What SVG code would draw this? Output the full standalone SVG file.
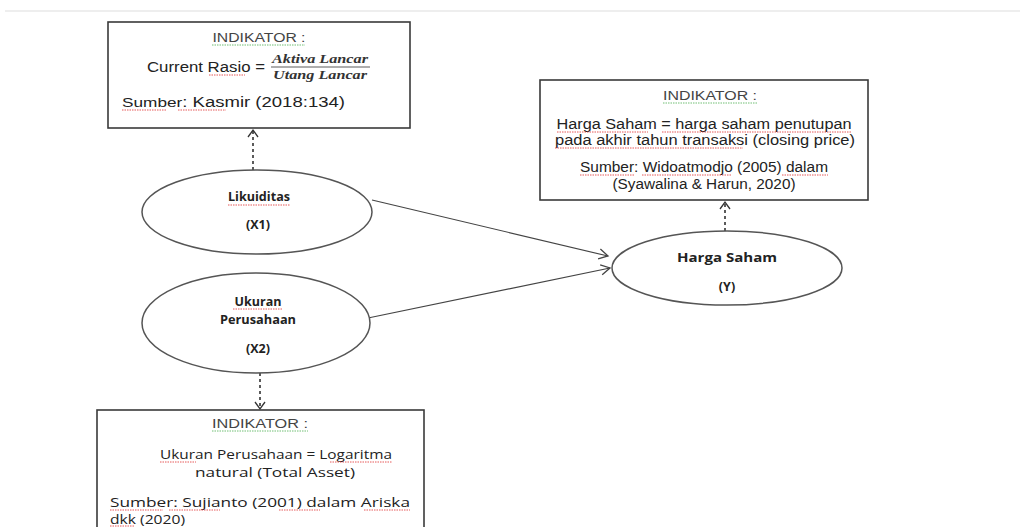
<svg xmlns="http://www.w3.org/2000/svg" width="1020" height="527" viewBox="0 0 1020 527">
<defs>
<style>
.box{fill:#fff;stroke:#3a3a3a;stroke-width:1.6}
.ell{fill:#fff;stroke:#555;stroke-width:1.5}
.t{font-family:"Liberation Sans",Arial,sans-serif;fill:#222;font-size:14px}
.c{font-family:"Open Sans","Noto Sans",sans-serif;fill:#222;font-size:12px}
.b{font-family:"Open Sans","Noto Sans",sans-serif;fill:#222;font-size:12.5px;font-weight:bold}
.h{font-family:"Liberation Sans",Arial,sans-serif;fill:#444;font-size:12px}
.m{font-family:"Liberation Serif","DejaVu Serif",serif;font-style:italic;font-weight:bold;fill:#333;font-size:12px}
.sol{stroke:#444;stroke-width:1.2;fill:none}
.dash{stroke:#333;stroke-width:1.6;fill:none;stroke-dasharray:3,3}
.sq{stroke:#e03030;stroke-width:0.8;fill:none;stroke-dasharray:1.5,1}
.sg{stroke:#4caf50;stroke-width:0.8;fill:none;stroke-dasharray:1.5,1}
</style>
<marker id="ah" markerWidth="12" markerHeight="12" refX="10" refY="6" orient="auto" markerUnits="userSpaceOnUse">
<path d="M1,1 L10,6 L1,11" fill="none" stroke="#444" stroke-width="1.3"/>
</marker>
<marker id="ahd" markerWidth="12" markerHeight="12" refX="9" refY="6" orient="auto" markerUnits="userSpaceOnUse">
<path d="M2,1 L9,6 L2,11" fill="none" stroke="#333" stroke-width="1.3"/>
</marker>
</defs>
<rect width="1020" height="527" fill="#fff"/>
<line x1="5" y1="11" x2="1020" y2="11" stroke="#ddd" stroke-width="1"/>

<g id="connectors">
<line class="dash" x1="253" y1="170" x2="253" y2="130" marker-end="url(#ahd)"/>
<line class="dash" x1="260" y1="373" x2="260" y2="409" marker-end="url(#ahd)"/>
<line class="dash" x1="725" y1="231" x2="725" y2="202" marker-end="url(#ahd)"/>
<line class="sol" x1="372" y1="200" x2="608" y2="256" marker-end="url(#ah)"/>
<line class="sol" x1="368" y1="318" x2="610" y2="268" marker-end="url(#ah)"/>
</g>

<g id="ind-x1">
<rect class="box" x="108" y="22" width="302" height="106"/>
<text class="h" x="259" y="42" text-anchor="middle" textLength="93" lengthAdjust="spacingAndGlyphs">INDIKATOR :</text>
<path class="sg" d="M212,45 H305"/>
<text class="t" x="147" y="72" textLength="118" lengthAdjust="spacingAndGlyphs">Current Rasio =</text>
<path class="sq" d="M209,75 H245"/>
<text class="m" x="320" y="63" text-anchor="middle" textLength="96" lengthAdjust="spacingAndGlyphs">Aktiva Lancar</text>
<line x1="271" y1="67" x2="370" y2="67" stroke="#333" stroke-width="0.8"/>
<text class="m" x="320" y="79" text-anchor="middle" textLength="94" lengthAdjust="spacingAndGlyphs">Utang Lancar</text>
<text class="t" x="122" y="107" textLength="223" lengthAdjust="spacingAndGlyphs"><tspan font-size="13">Sumber</tspan>: Kasmir (2018:134)</text>
<path class="sq" d="M122,110 H166 M178,110 H226"/>
</g>

<g id="ind-y">
<rect class="box" x="540" y="80" width="328" height="120"/>
<text class="h" x="710" y="100" text-anchor="middle" textLength="94" lengthAdjust="spacingAndGlyphs">INDIKATOR :</text>
<path class="sg" d="M663,103 H757"/>
<text class="t" x="704" y="129" text-anchor="middle" textLength="295" lengthAdjust="spacingAndGlyphs">Harga Saham = harga saham penutupan</text>
<path class="sq" d="M557,132 H648 M662,132 H852"/>
<text class="t" x="705" y="145" text-anchor="middle" textLength="300" lengthAdjust="spacingAndGlyphs">pada akhir tahun transaksi (closing price)</text>
<path class="sq" d="M555,148 H743"/>
<text class="t" x="704" y="172" text-anchor="middle" textLength="248" lengthAdjust="spacingAndGlyphs">Sumber: Widoatmodjo (2005) dalam</text>
<path class="sq" d="M580,175 H635 M642,175 H732 M782,175 H828"/>
<text class="t" x="704" y="189" text-anchor="middle" textLength="183" lengthAdjust="spacingAndGlyphs">(Syawalina &amp; Harun, 2020)</text>
</g>

<g id="x1">
<ellipse class="ell" cx="257" cy="212" rx="115" ry="42"/>
<text class="b" x="259" y="201" text-anchor="middle" textLength="62" lengthAdjust="spacingAndGlyphs">Likuiditas</text>
<path class="sq" d="M228,205 H290"/>
<text class="b" x="258" y="229" text-anchor="middle">(X1)</text>
</g>

<g id="x2">
<ellipse class="ell" cx="256" cy="323" rx="114" ry="50"/>
<text class="b" x="258" y="306" text-anchor="middle">Ukuran</text>
<path class="sq" d="M233,309 H282"/>
<text class="b" x="258" y="324" text-anchor="middle" textLength="76" lengthAdjust="spacingAndGlyphs">Perusahaan</text>
<text class="b" x="258" y="353" text-anchor="middle">(X2)</text>
</g>

<g id="y">
<ellipse class="ell" cx="727" cy="268" rx="115" ry="37"/>
<text class="b" x="727" y="262" text-anchor="middle" textLength="100" lengthAdjust="spacingAndGlyphs">Harga Saham</text>
<text class="b" x="727" y="291" text-anchor="middle">(Y)</text>
</g>

<g id="ind-x2">
<rect class="box" x="97" y="410" width="327" height="130"/>
<text class="h" x="260" y="428" text-anchor="middle" textLength="96" lengthAdjust="spacingAndGlyphs">INDIKATOR :</text>
<path class="sg" d="M212,431 H308"/>
<text class="c" x="276" y="459" text-anchor="middle" textLength="232" lengthAdjust="spacingAndGlyphs">Ukuran Perusahaan = Logaritma</text>
<path class="sq" d="M160,462 H196 M330,462 H392"/>
<text class="c" x="275" y="477" text-anchor="middle" textLength="160" lengthAdjust="spacingAndGlyphs">natural (Total Asset)</text>
<text class="c" x="110" y="507" textLength="300" lengthAdjust="spacingAndGlyphs">Sumber: Sujianto (2001) dalam Ariska</text>
<path class="sq" d="M110,510 H163 M169,510 H220 M279,510 H320 M364,510 H410"/>
<text class="c" x="110" y="524" textLength="75" lengthAdjust="spacingAndGlyphs">dkk (2020)</text>
<path class="sq" d="M110,526 H134"/>
</g>
</svg>
